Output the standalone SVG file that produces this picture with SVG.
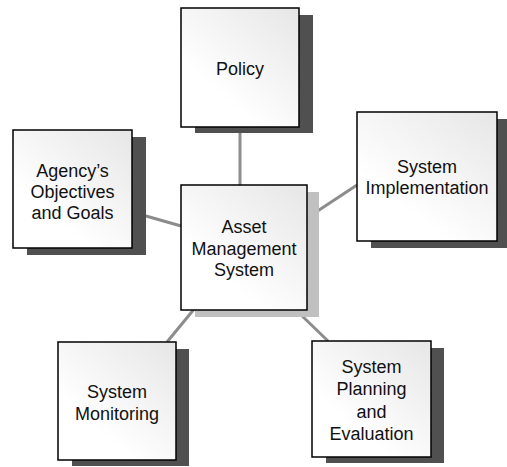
<svg xmlns="http://www.w3.org/2000/svg" width="507" height="467" viewBox="0 0 507 467">
<defs>
<linearGradient id="g" x1="1" y1="0" x2="0.35" y2="0.75">
<stop offset="0" stop-color="#e6e6e6"/>
<stop offset="1" stop-color="#ffffff"/>
</linearGradient>
</defs>
<style>
.box{fill:url(#g);stroke:#000;stroke-width:1.5}
.sh{fill:#505050}
.shl{fill:#c0c0c0}
.t{font-family:"Liberation Sans",Arial,sans-serif;font-size:18px;fill:#111;text-anchor:middle}
.c{stroke:#8c8c8c;stroke-width:3;fill:none}
</style>
<rect width="507" height="467" fill="#fff"/>
<g id="connectors">
<line class="c" x1="240" y1="127" x2="240" y2="185"/>
<line class="c" x1="132" y1="212" x2="181" y2="226"/>
<line class="c" x1="307" y1="218" x2="357" y2="185"/>
<line class="c" x1="195" y1="308" x2="167" y2="342"/>
<line class="c" x1="298" y1="312" x2="328" y2="341"/>
</g>
<g id="policy">
<rect class="sh" x="195" y="15" width="118" height="118"/>
<rect class="box" x="181" y="8" width="118" height="119"/>
<text class="t" x="240" y="75">Policy</text>
</g>
<g id="agency">
<rect class="sh" x="27" y="137" width="119" height="118"/>
<rect class="box" x="13" y="130" width="119" height="118"/>
<text class="t" x="72.5" y="177">Agency’s</text>
<text class="t" x="72.5" y="198">Objectives</text>
<text class="t" x="72.5" y="219">and Goals</text>
</g>
<g id="implementation">
<rect class="sh" x="371" y="119" width="140" height="129"/>
<rect class="box" x="357" y="112" width="140" height="129"/>
<text class="t" x="427" y="173">System</text>
<text class="t" x="427" y="194">Implementation</text>
</g>
<g id="asset">
<rect class="shl" x="195" y="192" width="124" height="125"/>
<rect class="box" x="181" y="185" width="126" height="125"/>
<text class="t" x="244" y="233">Asset</text>
<text class="t" x="244" y="255">Management</text>
<text class="t" x="244" y="276">System</text>
</g>
<g id="monitoring">
<rect class="sh" x="72" y="349" width="117" height="117"/>
<rect class="box" x="58" y="342" width="118" height="118"/>
<text class="t" x="117" y="398">System</text>
<text class="t" x="117" y="420">Monitoring</text>
</g>
<g id="planning">
<rect class="sh" x="326" y="348" width="118" height="115"/>
<rect class="box" x="312" y="341" width="119" height="116"/>
<text class="t" x="371.5" y="373">System</text>
<text class="t" x="371.5" y="395">Planning</text>
<text class="t" x="371.5" y="418">and</text>
<text class="t" x="371.5" y="440">Evaluation</text>
</g>
</svg>
